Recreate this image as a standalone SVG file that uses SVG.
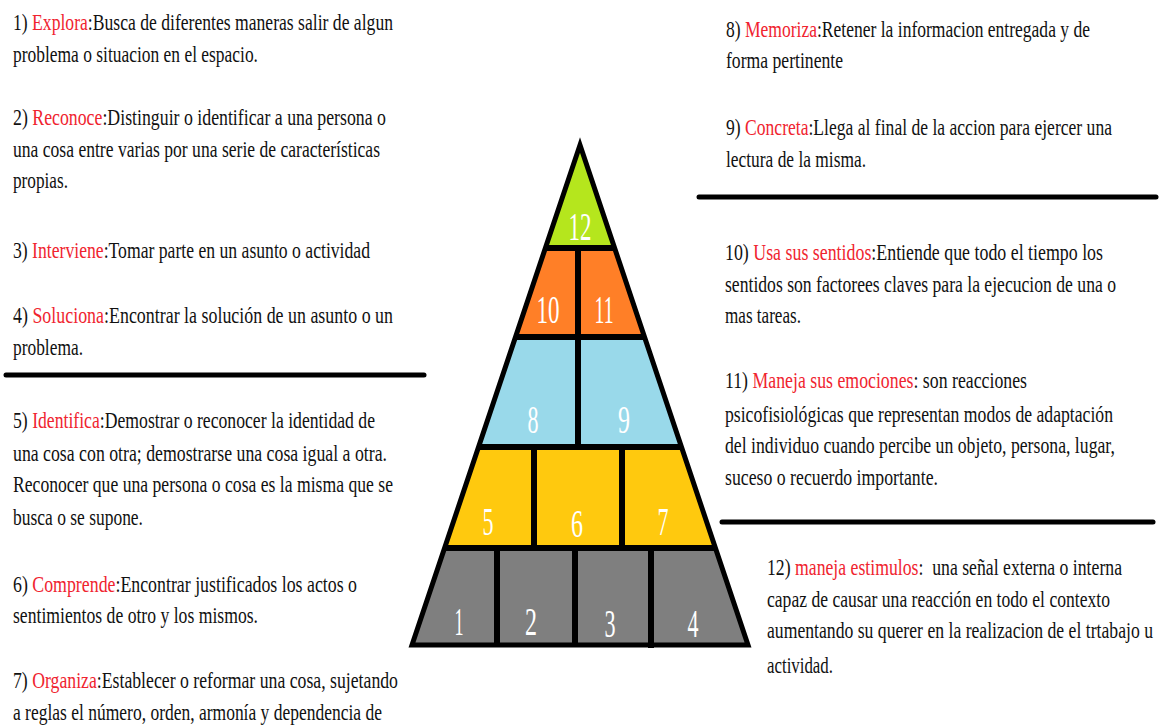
<svg xmlns="http://www.w3.org/2000/svg" width="1160" height="727" viewBox="0 0 1160 727">
<style>
.t{font-family:"Liberation Serif","Times New Roman",serif;font-size:17.5px;fill:#111;white-space:pre}
.r{fill:#f0242f}
.n{font-family:"Liberation Serif","Times New Roman",serif;font-size:39px;fill:#fff;text-anchor:middle}
.sep{stroke:#000;stroke-width:5;stroke-linecap:round;fill:none}
.div{stroke:#000;stroke-width:6;fill:none}
</style>
<rect width="1160" height="727" fill="#fff"/>
<g id="pyramid">
<g id="tier-12"><polygon points="580,145 614.6,248 545.4,248" fill="#b5e61d"/><text class="n" x="580" y="240" textLength="23" lengthAdjust="spacingAndGlyphs">12</text></g>
<g id="tier-10"><polygon points="545.4,248 578,248 578,337 515.5,337" fill="#ff7f27"/><text class="n" x="548" y="323" textLength="23" lengthAdjust="spacingAndGlyphs">10</text></g>
<g id="tier-11"><polygon points="578,248 614.6,248 644.5,337 578,337" fill="#ff7f27"/><text class="n" x="604" y="323" textLength="19" lengthAdjust="spacingAndGlyphs">11</text></g>
<g id="tier-8"><polygon points="515.5,337 578,337 578,447 478.5,447" fill="#99d9ea"/><text class="n" x="533" y="433" textLength="11" lengthAdjust="spacingAndGlyphs">8</text></g>
<g id="tier-9"><polygon points="578,337 644.5,337 681.5,447 578,447" fill="#99d9ea"/><text class="n" x="624" y="433" textLength="12" lengthAdjust="spacingAndGlyphs">9</text></g>
<g id="tier-5"><polygon points="478.5,447 534,447 534,548 444.6,548" fill="#ffc90e"/><text class="n" x="488" y="535" textLength="11" lengthAdjust="spacingAndGlyphs">5</text></g>
<g id="tier-6"><polygon points="534,447 622,447 622,548 534,548" fill="#ffc90e"/><text class="n" x="577" y="537" textLength="12" lengthAdjust="spacingAndGlyphs">6</text></g>
<g id="tier-7"><polygon points="622,447 681.5,447 715.4,548 622,548" fill="#ffc90e"/><text class="n" x="663" y="535" textLength="11" lengthAdjust="spacingAndGlyphs">7</text></g>
<g id="tier-1"><polygon points="444.6,548 497,548 497,645 412,645" fill="#7f7f7f"/><text class="n" x="459" y="635" textLength="9" lengthAdjust="spacingAndGlyphs">1</text></g>
<g id="tier-2"><polygon points="497,548 575,548 575,645 497,645" fill="#7f7f7f"/><text class="n" x="531" y="635" textLength="12" lengthAdjust="spacingAndGlyphs">2</text></g>
<g id="tier-3"><polygon points="575,548 651,548 651,645 575,645" fill="#7f7f7f"/><text class="n" x="610" y="637" textLength="11" lengthAdjust="spacingAndGlyphs">3</text></g>
<g id="tier-4"><polygon points="651,548 715.4,548 748,645 651,645" fill="#7f7f7f"/><text class="n" x="693" y="637" textLength="11" lengthAdjust="spacingAndGlyphs">4</text></g>
<g id="pyramid-lines">
<line class="div" x1="545" y1="248" x2="615" y2="248"/>
<line class="div" x1="515" y1="337" x2="645" y2="337"/>
<line class="div" x1="478" y1="447" x2="682" y2="447"/>
<line class="div" x1="444" y1="548" x2="716" y2="548"/>
<line class="div" x1="578" y1="248" x2="578" y2="447"/>
<line class="div" x1="534" y1="447" x2="534" y2="548"/>
<line class="div" x1="622" y1="447" x2="622" y2="548"/>
<line class="div" x1="497" y1="548" x2="497" y2="645"/>
<line class="div" x1="575" y1="548" x2="575" y2="645"/>
<line class="div" x1="651" y1="548" x2="651" y2="648"/>
<polygon points="580,145 748,645 412,645" fill="none" stroke="#000" stroke-width="5" stroke-linejoin="miter"/>
</g>
</g>
<g id="separators">
<line class="sep" x1="6" y1="375" x2="424" y2="375"/>
<line class="sep" x1="699" y1="197" x2="1156" y2="197"/>
<line class="sep" x1="722" y1="522" x2="1153" y2="522"/>
</g>
<g id="texts" transform="scale(1 1.3143)">
<g id="item-1-4">
<text class="t" x="13" y="22.83" textLength="380" lengthAdjust="spacingAndGlyphs">1) <tspan class="r">Explora</tspan>:Busca de diferentes maneras salir de algun</text>
<text class="t" x="13" y="47.17" textLength="245" lengthAdjust="spacingAndGlyphs">problema o situacion en el espacio.</text>
<text class="t" x="13" y="95.11" textLength="373" lengthAdjust="spacingAndGlyphs">2) <tspan class="r">Reconoce</tspan>:Distinguir o identificar a una persona o</text>
<text class="t" x="13" y="119.46" textLength="367" lengthAdjust="spacingAndGlyphs">una cosa entre varias por una serie de características</text>
<text class="t" x="13" y="143.04" textLength="55" lengthAdjust="spacingAndGlyphs">propias.</text>
<text class="t" x="13" y="196.30" textLength="357" lengthAdjust="spacingAndGlyphs">3) <tspan class="r">Interviene</tspan>:Tomar parte en un asunto o actividad</text>
<text class="t" x="13" y="245.76" textLength="380" lengthAdjust="spacingAndGlyphs">4) <tspan class="r">Soluciona</tspan>:Encontrar la solución de un asunto o un</text>
<text class="t" x="13" y="270.11" textLength="70" lengthAdjust="spacingAndGlyphs">problema.</text>
</g>
<g id="item-5-7">
<text class="t" x="13" y="325.65" textLength="362" lengthAdjust="spacingAndGlyphs">5) <tspan class="r">Identifica</tspan>:Demostrar o reconocer la identidad de</text>
<text class="t" x="13" y="350.76" textLength="374" lengthAdjust="spacingAndGlyphs">una cosa con otra; demostrarse una cosa igual a otra.</text>
<text class="t" x="13" y="374.35" textLength="380" lengthAdjust="spacingAndGlyphs">Reconocer que una persona o cosa es la misma que se</text>
<text class="t" x="13" y="399.45" textLength="130" lengthAdjust="spacingAndGlyphs">busca o se supone.</text>
<text class="t" x="13" y="450.43" textLength="344" lengthAdjust="spacingAndGlyphs">6) <tspan class="r">Comprende</tspan>:Encontrar justificados los actos o</text>
<text class="t" x="13" y="474.02" textLength="245" lengthAdjust="spacingAndGlyphs">sentimientos de otro y los mismos.</text>
<text class="t" x="13" y="523.47" textLength="385" lengthAdjust="spacingAndGlyphs">7) <tspan class="r">Organiza</tspan>:Establecer o reformar una cosa, sujetando</text>
<text class="t" x="13" y="547.82" textLength="369" lengthAdjust="spacingAndGlyphs">a reglas el número, orden, armonía y dependencia de</text>
</g>
<g id="item-8-9">
<text class="t" x="726" y="28.15" textLength="364" lengthAdjust="spacingAndGlyphs">8) <tspan class="r">Memoriza</tspan>:Retener la informacion entregada y de</text>
<text class="t" x="726" y="51.74" textLength="117" lengthAdjust="spacingAndGlyphs">forma pertinente</text>
<text class="t" x="726" y="102.72" textLength="386" lengthAdjust="spacingAndGlyphs">9) <tspan class="r">Concreta</tspan>:Llega al final de la accion para ejercer una</text>
<text class="t" x="726" y="127.06" textLength="140" lengthAdjust="spacingAndGlyphs">lectura de la misma.</text>
</g>
<g id="item-10-11">
<text class="t" x="725" y="197.83" textLength="378" lengthAdjust="spacingAndGlyphs">10) <tspan class="r">Usa sus sentidos</tspan>:Entiende que todo el tiempo los</text>
<text class="t" x="725" y="222.17" textLength="391" lengthAdjust="spacingAndGlyphs">sentidos son factorees claves para la ejecucion de una o</text>
<text class="t" x="725" y="245.76" textLength="76" lengthAdjust="spacingAndGlyphs">mas tareas.</text>
<text class="t" x="725" y="295.21" textLength="302" lengthAdjust="spacingAndGlyphs">11) <tspan class="r">Maneja sus emociones</tspan>: son reacciones</text>
<text class="t" x="725" y="321.08" textLength="388" lengthAdjust="spacingAndGlyphs">psicofisiológicas que representan modos de adaptación</text>
<text class="t" x="725" y="344.67" textLength="390" lengthAdjust="spacingAndGlyphs">del individuo cuando percibe un objeto, persona, lugar,</text>
<text class="t" x="725" y="369.02" textLength="213" lengthAdjust="spacingAndGlyphs">suceso o recuerdo importante.</text>
</g>
<g id="item-12">
<text class="t" x="767" y="437.49" textLength="355" lengthAdjust="spacingAndGlyphs">12) <tspan class="r">maneja estimulos</tspan>:  una señal externa o interna</text>
<text class="t" x="767" y="461.84" textLength="343" lengthAdjust="spacingAndGlyphs">capaz de causar una reacción en todo el contexto</text>
<text class="t" x="767" y="485.43" textLength="386" lengthAdjust="spacingAndGlyphs">aumentando su querer en la realizacion de el trtabajo u</text>
<text class="t" x="767" y="512.06" textLength="66" lengthAdjust="spacingAndGlyphs">actividad.</text>
</g>
</g>
</svg>
